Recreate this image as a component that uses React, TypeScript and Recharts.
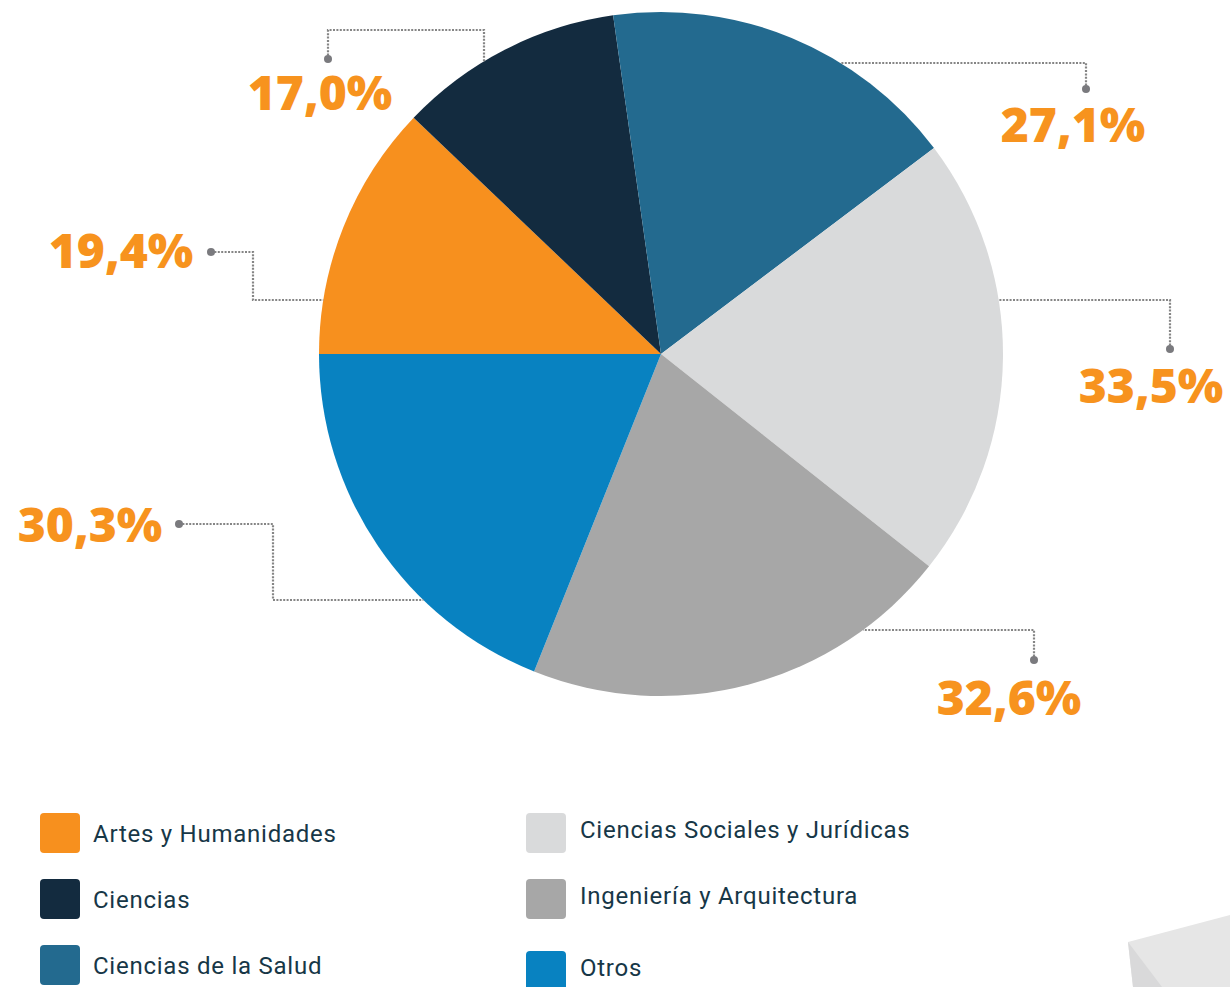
import React from "react";
import { PieChart, Pie, Cell, Legend } from "recharts";

const categories = [
  "Artes y Humanidades",
  "Ciencias",
  "Ciencias de la Salud",
  "Ciencias Sociales y Jurídicas",
  "Ingeniería y Arquitectura",
  "Otros",
];
const values = [19.4, 17.0, 27.1, 33.5, 32.6, 30.3];
const colors = ["#F7901E", "#132B3F", "#236A8F", "#D9DADB", "#A7A7A7", "#0882C1"];

const data = categories.map((name, i) => ({ name, value: values[i] }));

// label layout, offsets relative to the pie centre (style/positions only)
type Pt = [number, number];
const labelLayout: { dot: Pt; path: Pt[]; end: "h" | "v"; text: Pt }[] = [
  { dot: [-450, -102], path: [[-408, -102], [-408, -54]], end: "h", text: [-540, -86] },
  { dot: [-333, -295], path: [[-333, -324], [-177, -324]], end: "v", text: [-341, -244] },
  { dot: [425, -265], path: [[425, -291]], end: "h", text: [412, -212] },
  { dot: [509, -5], path: [[509, -54]], end: "h", text: [490, 49] },
  { dot: [373, 306], path: [[373, 276]], end: "h", text: [348, 361] },
  { dot: [-482, 170], path: [[-388, 170], [-388, 246]], end: "h", text: [-571, 188] },
];

const fmt = (v: number) => v.toFixed(1).replace(".", ",") + "%";

const renderLabel = (props: any) => {
  const { cx, cy, outerRadius, index, value } = props;
  const L = labelLayout[index];
  if (!L) return null;
  const r = outerRadius;
  const last = L.path[L.path.length - 1];
  let endPt: Pt;
  if (L.end === "h") {
    const dx = Math.sqrt(Math.max(0, r * r - last[1] * last[1]));
    endPt = [last[0] < 0 ? -dx : dx, last[1]];
  } else {
    const dy = Math.sqrt(Math.max(0, r * r - last[0] * last[0]));
    endPt = [last[0], last[1] < 0 ? -dy : dy];
  }
  const pts: Pt[] = [L.dot, ...L.path, endPt];
  const d = pts
    .map((p, i) => `${i === 0 ? "M" : "L"}${cx + p[0]},${cy + p[1]}`)
    .join(" ");
  return (
    <g key={`lbl-${index}`}>
      <path d={d} fill="none" stroke="#858585" strokeWidth={2.2} strokeDasharray="2 1.4" />
      <circle cx={cx + L.dot[0]} cy={cy + L.dot[1]} r={4} fill="#7a7a7e" />
      <text
        x={cx + L.text[0]}
        y={cy + L.text[1]}
        textAnchor="middle"
        fill="#F7931E"
        fontFamily="'Open Sans', sans-serif"
        fontWeight={800}
        fontSize={48}
      >
        {fmt(value)}
      </text>
    </g>
  );
};

const legendColumns = [
  [0, 1, 2],
  [3, 4, 5],
];

const renderLegend = () => (
  <div style={{ position: "relative", width: 1230, height: 200 }}>
    {legendColumns.map((col, ci) =>
      col.map((idx, ri) => (
        <div
          key={idx}
          style={{
            position: "absolute",
            left: ci === 0 ? 40 : 526,
            top: ri * 66 + (ci === 1 && ri === 2 ? 6 : 0),
            display: "flex",
            alignItems: "center",
            height: 40,
          }}
        >
          <div
            style={{
              width: 40,
              height: 40,
              borderRadius: 4,
              background: colors[idx],
              flex: "0 0 auto",
            }}
          />
          <span
            style={{
              marginLeft: ci === 0 ? 13 : 14,
              fontFamily: "Roboto, sans-serif",
              fontSize: 24,
              letterSpacing: 0.75,
              color: "#173747",
              position: "relative",
              top: ci === 0 ? 1 : -3,
              whiteSpace: "nowrap",
            }}
          >
            {categories[idx]}
          </span>
        </div>
      ))
    )}
  </div>
);

export default function App() {
  return (
    <div style={{ position: "absolute", left: 0, top: 0, width: 1230, height: 987, background: "#fff", overflow: "hidden" }}>
      <svg width={1230} height={987} style={{ position: "absolute", left: 0, top: 0 }}>
        <polygon points="1128,942 1230,915 1230,987 1133,987" fill="#E6E6E6" />
        <polygon points="1128,942 1162,987 1133,987" fill="#D9D9DA" />
      </svg>
      <div style={{ position: "absolute", left: 0, top: 0 }}>
        <PieChart width={1230} height={987} margin={{ top: 0, right: 0, bottom: 0, left: 0 }}>
          <Pie
            data={data}
            dataKey="value"
            nameKey="name"
            cx={661}
            cy={354}
            outerRadius={342}
            startAngle={180}
            endAngle={-180}
            stroke="none"
            label={renderLabel}
            labelLine={false}
            isAnimationActive={false}
          >
            {data.map((d, i) => (
              <Cell key={d.name} fill={colors[i]} />
            ))}
          </Pie>
          <Legend
            content={renderLegend}
            wrapperStyle={{ position: "absolute", left: 0, top: 813, width: 1230, height: 200 }}
          />
        </PieChart>
      </div>
    </div>
  );
}
